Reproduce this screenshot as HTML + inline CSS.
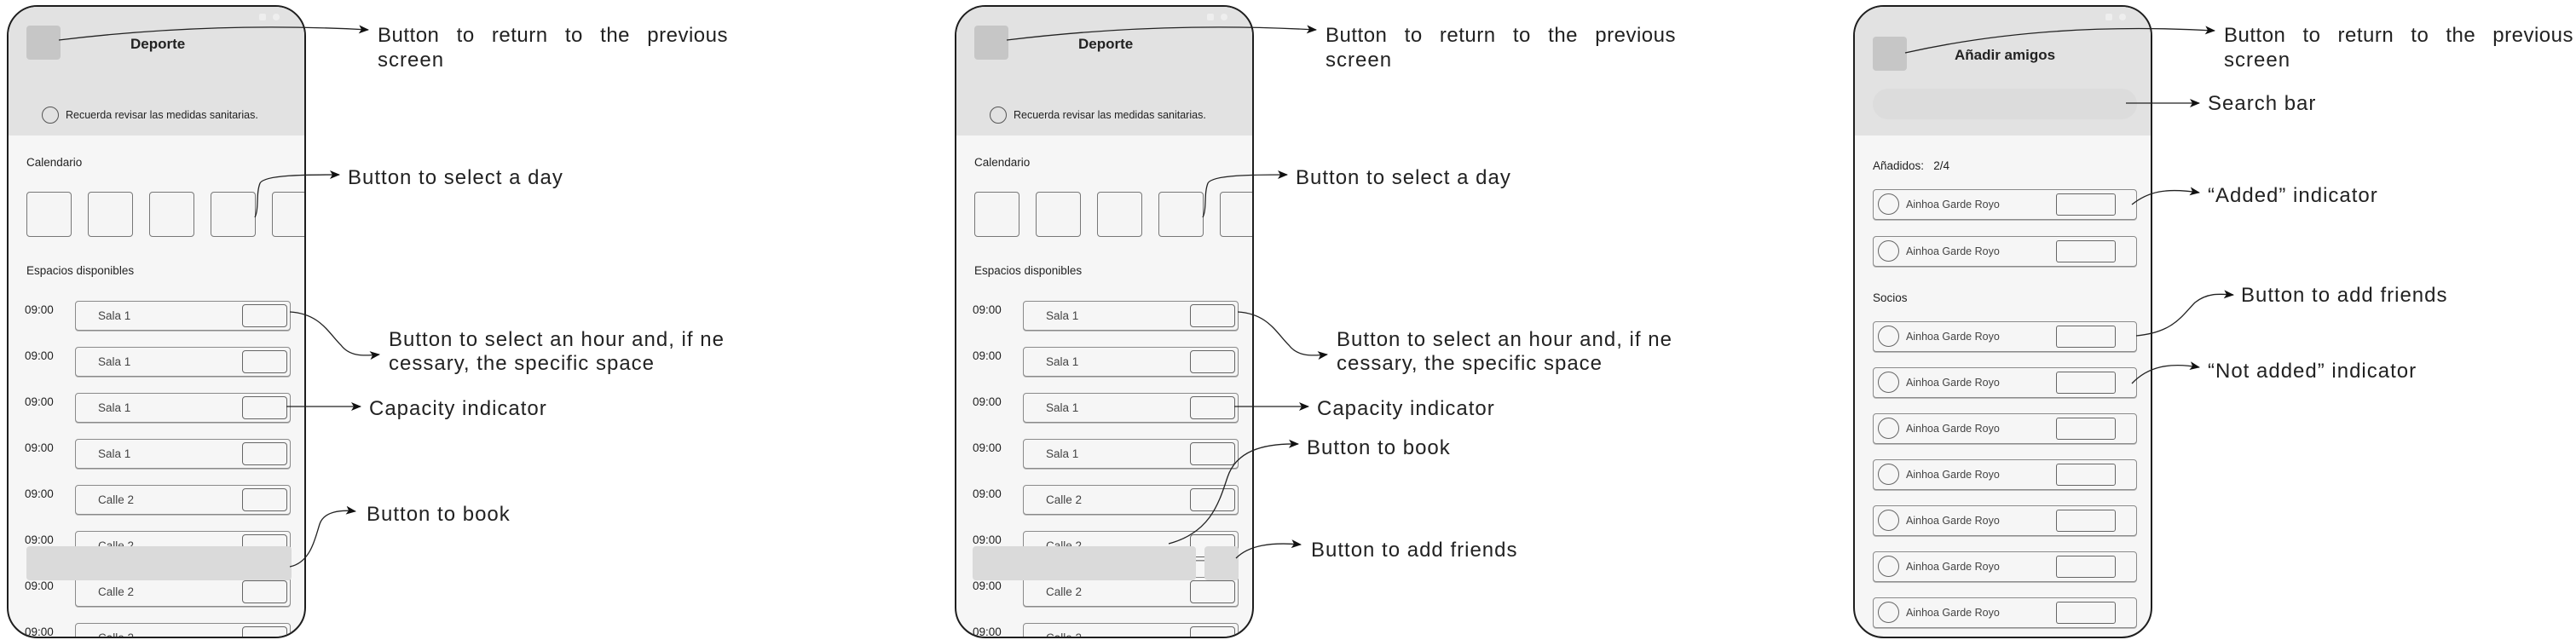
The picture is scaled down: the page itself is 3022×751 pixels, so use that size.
<!DOCTYPE html>
<html><head><meta charset="utf-8"><style>
*{margin:0;padding:0;box-sizing:border-box}
body{width:3022px;height:751px;background:#fff;position:relative;overflow:hidden;font-family:"Liberation Sans",sans-serif}
.ph{position:absolute;top:6px;width:351px;height:743px;border:2.5px solid #1e1e1e;border-radius:36px;overflow:hidden;background:#f6f6f6}
.ph>*{position:absolute}
.hd{left:0;top:0;width:100%;height:151px;background:#e2e2e2}
.bk{width:40px;height:40px;background:#c6c6c6;border-radius:4px}
.tt{font-weight:bold;font-size:17px;color:#222;line-height:20px}
.sm{font-size:12.5px;color:#222;line-height:16px}
.lb{font-size:13.5px;color:#222;line-height:16px}
.day{width:53px;height:53px;border:1.5px solid #777;border-radius:4px;background:#f5f5f5;top:217px}
.tm{left:19px;font-size:13.5px;color:#222;line-height:16px}
.row{left:78px;width:253px;height:35px;border:1.5px solid #8a8a8a;border-radius:4px;background:#f6f6f6;box-shadow:0 1px 0 #bbb}
.row span{position:absolute;left:26px;top:9px;font-size:13.5px;color:#444}
.row i{position:absolute;left:195px;top:3px;width:53px;height:27px;border:1.5px solid #666;border-radius:4px}
.fr{left:21px;width:310px;height:36px;border:1.5px solid #8a8a8a;border-radius:4px;background:#f6f6f6;box-shadow:0 1px 0 #bbb}
.fr b{position:absolute;left:5px;top:4px;width:25px;height:25px;border:1.3px solid #666;border-radius:50%}
.fr span{position:absolute;left:38px;top:10px;font-size:12.5px;color:#444}
.fr i{position:absolute;left:214px;top:4px;width:70px;height:26px;border:1.5px solid #666;border-radius:3px}
.an{position:absolute;font-size:24px;letter-spacing:1px;line-height:29px;color:#222;white-space:nowrap}
.j{text-align:justify;text-align-last:justify;white-space:normal;letter-spacing:0.5px}
.stat{top:8px;width:8px;height:8px;background:#eee;border-radius:2px}
</style></head><body>

<!-- Phone 1 -->
<div class="ph" style="left:8px">
<div class="hd"></div>
<div class="stat" style="left:294px"></div><div class="stat" style="left:310px;border-radius:50%"></div>
<div class="bk" style="left:21px;top:22px"></div>
<div class="tt" style="left:143px;top:34px">Deporte</div>
<div style="left:39px;top:117px;width:20px;height:20px;border:1.3px solid #555;border-radius:50%"></div>
<div class="sm" style="left:67px;top:119px">Recuerda revisar las medidas sanitarias.</div>
<div class="lb" style="left:21px;top:175px">Calendario</div>
<div class="day" style="left:21px"></div><div class="day" style="left:93px"></div><div class="day" style="left:165px"></div><div class="day" style="left:237px"></div><div class="day" style="left:309px"></div>
<div class="lb" style="left:21px;top:302px">Espacios disponibles</div>
<div class="tm" style="top:348px">09:00</div><div class="row" style="top:345px"><span>Sala 1</span><i></i></div>
<div class="tm" style="top:402px">09:00</div><div class="row" style="top:399px"><span>Sala 1</span><i></i></div>
<div class="tm" style="top:456px">09:00</div><div class="row" style="top:453px"><span>Sala 1</span><i></i></div>
<div class="tm" style="top:510px">09:00</div><div class="row" style="top:507px"><span>Sala 1</span><i></i></div>
<div class="tm" style="top:564px">09:00</div><div class="row" style="top:561px"><span>Calle 2</span><i></i></div>
<div class="tm" style="top:618px">09:00</div><div class="row" style="top:615px"><span>Calle 2</span><i></i></div>
<div class="tm" style="top:672px">09:00</div><div class="row" style="top:669px"><span>Calle 2</span><i></i></div>
<div class="tm" style="top:726px">09:00</div><div class="row" style="top:723px"><span>Calle 2</span><i></i></div>
<div style="left:21px;top:633px;width:311px;height:40px;background:#dadada;border-radius:4px"></div>
</div>

<!-- Phone 2 -->
<div class="ph" style="left:1120px">
<div class="hd"></div>
<div class="stat" style="left:294px"></div><div class="stat" style="left:310px;border-radius:50%"></div>
<div class="bk" style="left:21px;top:22px"></div>
<div class="tt" style="left:143px;top:34px">Deporte</div>
<div style="left:39px;top:117px;width:20px;height:20px;border:1.3px solid #555;border-radius:50%"></div>
<div class="sm" style="left:67px;top:119px">Recuerda revisar las medidas sanitarias.</div>
<div class="lb" style="left:21px;top:175px">Calendario</div>
<div class="day" style="left:21px"></div><div class="day" style="left:93px"></div><div class="day" style="left:165px"></div><div class="day" style="left:237px"></div><div class="day" style="left:309px"></div>
<div class="lb" style="left:21px;top:302px">Espacios disponibles</div>
<div class="tm" style="top:348px">09:00</div><div class="row" style="top:345px"><span>Sala 1</span><i></i></div>
<div class="tm" style="top:402px">09:00</div><div class="row" style="top:399px"><span>Sala 1</span><i></i></div>
<div class="tm" style="top:456px">09:00</div><div class="row" style="top:453px"><span>Sala 1</span><i></i></div>
<div class="tm" style="top:510px">09:00</div><div class="row" style="top:507px"><span>Sala 1</span><i></i></div>
<div class="tm" style="top:564px">09:00</div><div class="row" style="top:561px"><span>Calle 2</span><i></i></div>
<div class="tm" style="top:618px">09:00</div><div class="row" style="top:615px"><span>Calle 2</span><i></i></div>
<div class="tm" style="top:672px">09:00</div><div class="row" style="top:669px"><span>Calle 2</span><i></i></div>
<div class="tm" style="top:726px">09:00</div><div class="row" style="top:723px"><span>Calle 2</span><i></i></div>
<div style="left:19px;top:633px;width:262px;height:40px;background:#dadada;border-radius:4px"></div>
<div style="left:291px;top:633px;width:40px;height:40px;background:#dadada;border-radius:4px"></div>
</div>

<!-- Phone 3 -->
<div class="ph" style="left:2174px">
<div class="hd"></div>
<div class="stat" style="left:294px"></div><div class="stat" style="left:310px;border-radius:50%"></div>
<div class="bk" style="left:21px;top:35px"></div>
<div class="tt" style="left:117px;top:47px">Añadir amigos</div>
<div style="left:21px;top:96px;width:310px;height:36px;background:#dcdcdc;border-radius:18px"></div>
<div class="lb" style="left:21px;top:179px">Añadidos:&nbsp;&nbsp; 2/4</div>
<div class="fr" style="top:214px"><b></b><span>Ainhoa Garde Royo</span><i></i></div>
<div class="fr" style="top:269px"><b></b><span>Ainhoa Garde Royo</span><i></i></div>
<div class="lb" style="left:21px;top:334px">Socios</div>
<div class="fr" style="top:369px"><b></b><span>Ainhoa Garde Royo</span><i></i></div>
<div class="fr" style="top:423px"><b></b><span>Ainhoa Garde Royo</span><i></i></div>
<div class="fr" style="top:477px"><b></b><span>Ainhoa Garde Royo</span><i></i></div>
<div class="fr" style="top:531px"><b></b><span>Ainhoa Garde Royo</span><i></i></div>
<div class="fr" style="top:585px"><b></b><span>Ainhoa Garde Royo</span><i></i></div>
<div class="fr" style="top:639px"><b></b><span>Ainhoa Garde Royo</span><i></i></div>
<div class="fr" style="top:693px"><b></b><span>Ainhoa Garde Royo</span><i></i></div>
</div>

<!-- connectors -->
<svg style="position:absolute;left:0;top:0" width="3022" height="751" fill="none" stroke="#222" stroke-width="1.3">
<defs><marker id="a" viewBox="0 0 12 10" refX="11" refY="5" markerWidth="12" markerHeight="10" markerUnits="userSpaceOnUse" orient="auto"><path d="M0,0 L12,5 L0,10 L3,5 Z" fill="#111" stroke="none"/></marker></defs>
<g marker-end="url(#a)">
<path d="M69,47 Q250,25 432,35"/>
<path d="M299,255 C304,245 300,228 305,215 C310,205 360,205 398,205"/>
<path d="M340,366 C375,368 385,390 400,405 C410,418 425,418 445,416"/>
<path d="M336,477 L423,477"/>
<path d="M340,665 C365,660 370,630 375,615 C380,600 400,598 417,600"/>

<path d="M1181,47 Q1362,25 1544,35"/>
<path d="M1411,255 C1416,245 1412,228 1417,215 C1422,205 1472,205 1510,205"/>
<path d="M1452,366 C1487,368 1497,390 1512,405 C1522,418 1537,418 1557,416"/>
<path d="M1448,477 L1535,477"/>
<path d="M1371,638 C1420,625 1430,590 1440,560 C1450,530 1480,520 1523,521"/>
<path d="M1450,655 C1465,640 1490,636 1526,639"/>

<path d="M2235,62 Q2400,25 2598,36"/>
<path d="M2494,121 L2580,121"/>
<path d="M2501,240 C2520,225 2540,220 2580,226"/>
<path d="M2506,394 C2550,390 2560,370 2575,355 C2590,343 2605,345 2620,346"/>
<path d="M2501,450 C2520,430 2545,425 2580,431"/>
</g></svg>

<!-- labels -->
<div class="an j" style="left:443px;top:27px;width:411px">Button to return to the previous</div>
<div class="an" style="left:443px;top:56px">screen</div>
<div class="an" style="left:408px;top:194px">Button to select a day</div>
<div class="an" style="left:456px;top:384px">Button to select an hour and, if ne</div>
<div class="an" style="left:456px;top:412px">cessary, the specific space</div>
<div class="an" style="left:433px;top:465px">Capacity indicator</div>
<div class="an" style="left:430px;top:589px">Button to book</div>

<div class="an j" style="left:1555px;top:27px;width:411px">Button to return to the previous</div>
<div class="an" style="left:1555px;top:56px">screen</div>
<div class="an" style="left:1520px;top:194px">Button to select a day</div>
<div class="an" style="left:1568px;top:384px">Button to select an hour and, if ne</div>
<div class="an" style="left:1568px;top:412px">cessary, the specific space</div>
<div class="an" style="left:1545px;top:465px">Capacity indicator</div>
<div class="an" style="left:1533px;top:511px">Button to book</div>
<div class="an" style="left:1538px;top:631px">Button to add friends</div>

<div class="an j" style="left:2609px;top:27px;width:410px">Button to return to the previous</div>
<div class="an" style="left:2609px;top:56px">screen</div>
<div class="an" style="left:2590px;top:107px">Search bar</div>
<div class="an" style="left:2590px;top:215px">“Added” indicator</div>
<div class="an" style="left:2629px;top:332px">Button to add friends</div>
<div class="an" style="left:2590px;top:421px">“Not added” indicator</div>
</body></html>
